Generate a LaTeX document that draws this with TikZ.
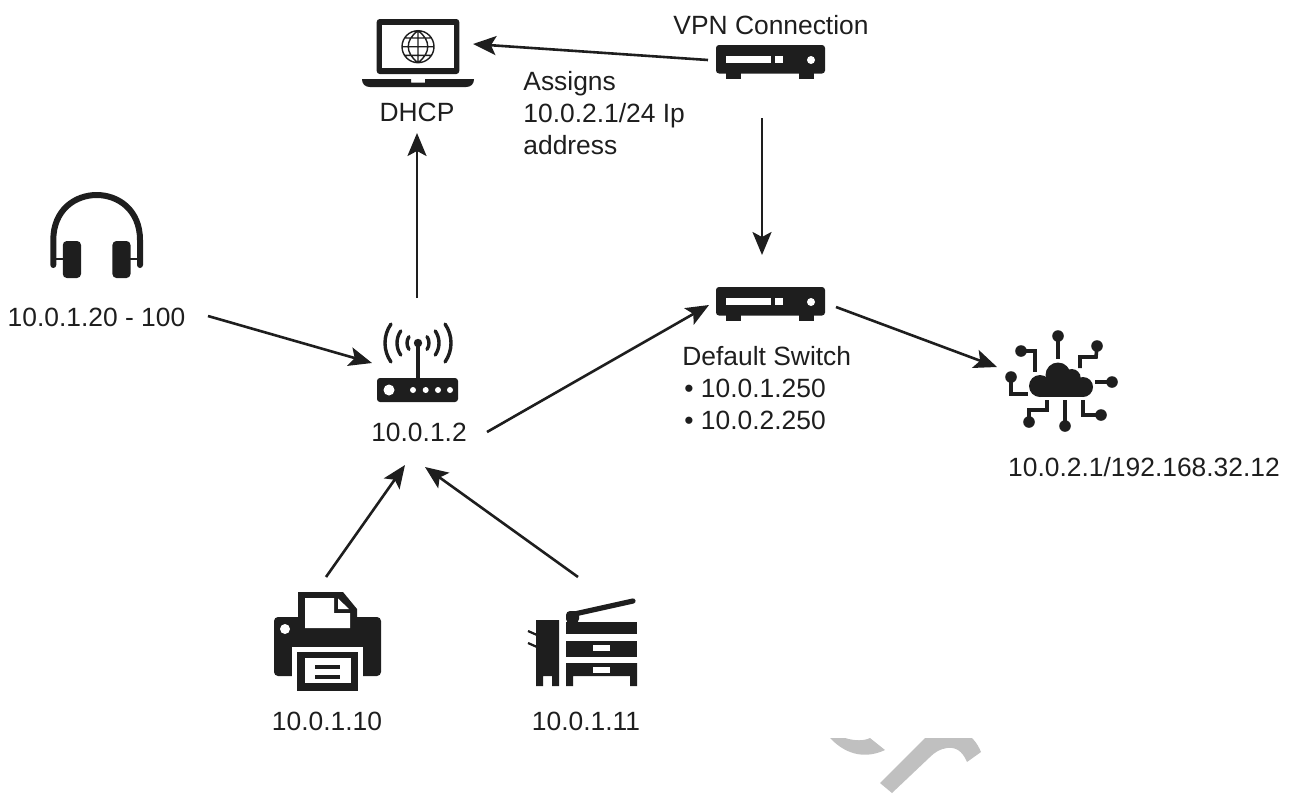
\documentclass[tikz,border=0pt]{standalone}
\usepackage{fontspec}
\setmainfont{Liberation Sans}
\usetikzlibrary{arrows.meta}
\definecolor{ink}{HTML}{1E1E1E}
\definecolor{wmgrey}{HTML}{C0C0C0}
\tikzset{
  linkarrow/.style={draw=ink,line width=1.3pt,-{Stealth[length=11.5pt,width=9.5pt,inset=2.5pt]}},
  lbl/.style={text=ink,font=\fontsize{13.2}{16}\selectfont,inner sep=0pt},
  iconfill/.style={fill=ink,draw=none},
  holefill/.style={fill=white,draw=none},
  wirestroke/.style={draw=ink,line width=1.8pt},
}
\newcommand{\switchicon}{%
  \fill[iconfill,rounded corners=1.5pt] (716,45) rectangle (825,73.5);
  \fill[iconfill] (726,73) rectangle (741,78.7);
  \fill[iconfill] (799,73) rectangle (814,78.7);
  \fill[holefill] (726,56) rectangle (770.7,63.3);
  \fill[holefill] (775,56) rectangle (783,63.3);
  \fill[holefill] (811,60) circle (4);
}
\begin{document}
\begin{tikzpicture}[x=0.5pt,y=-0.5pt]
\useasboundingbox (0,0) rectangle (1294,793);
% watermark
\fill[wmgrey] (830,738) -- (845,738) .. controls (855,741) and (864,741) .. (870,738) -- (885,750) .. controls (868,758) and (848,757) .. (830,738) -- cycle;
\fill[wmgrey] (925,738) -- (972,738) .. controls (976,742) and (979,747) .. (981,752) -- (967,762) .. controls (962,750) and (955,747) .. (947,748) .. controls (940,749) and (935,752) .. (930,757) -- (892,793) -- (880,783) -- cycle;
% laptop
\fill[iconfill,rounded corners=1.5pt] (376.7,19) rectangle (459.3,74);
\fill[holefill] (382,25) rectangle (453.7,68);
\draw[ink,line width=0.7pt] (418,46.7) circle (16) (402,46.7) -- (434,46.7) (418,30.7) -- (418,62.7)
  (418,30.7) .. controls (405,40) and (405,53) .. (418,62.7)
  (418,30.7) .. controls (431,40) and (431,53) .. (418,62.7)
  (405,38) -- (431,38) (405,55.4) -- (431,55.4);
\fill[iconfill] (362,79) -- (411,79) -- (411,82.6) -- (425,82.6) -- (425,79) -- (474,79) .. controls (474,84) and (471,87) .. (466,87) -- (370,87) .. controls (365,87) and (362,84) .. (362,79) -- cycle;
% switches
\begin{scope}\switchicon\end{scope}
\begin{scope}[yshift=-121pt]\switchicon\end{scope}
% headset
\draw[ink,line width=3pt,line cap=round] (53.3,265) -- (53.3,240) .. controls (53.3,180) and (140,180) .. (140,240) -- (140,265);
\draw[ink,line width=1.3pt] (53.3,259) -- (65,259) (128,259) -- (140,259);
\fill[iconfill,rounded corners=2pt] (62.8,241) rectangle (81,278);
\fill[iconfill,rounded corners=2pt] (112.4,241) rectangle (130.5,278);
% router
\fill[iconfill,rounded corners=1.5pt] (377,378) rectangle (458,402);
\fill[holefill] (389,390) circle (5.5);
\foreach \px in {413,425.7,438,450} \fill[holefill] (\px,390) circle (3);
\draw[ink,line width=1.6pt] (418,343) -- (418,380);
\fill[iconfill] (418,343) circle (4.2);
\foreach \r in {11,21,33} {
  \draw[ink,line width=1.7pt,line cap=round] ([shift={(145:\r)}]418,343) arc[start angle=145,end angle=215,radius=\r];
  \draw[ink,line width=1.7pt,line cap=round] ([shift={(35:\r)}]418,343) arc[start angle=35,end angle=-35,radius=\r];
}
% cloud
\fill[iconfill] (1040,386) circle (11);
\fill[iconfill] (1058,375) circle (12.5);
\fill[iconfill] (1071.7,378) circle (9);
\fill[iconfill] (1083,387) circle (10);
\fill[iconfill] (1040,380) rectangle (1083,397);
\draw[wirestroke] (1058,336) -- (1058,359);
\draw[wirestroke] (1021,351) -- (1035,351) -- (1035,372);
\draw[wirestroke] (1097,346) -- (1096,357) -- (1080,357) -- (1080,368);
\draw[wirestroke] (1011,377) -- (1011,394) -- (1028,394);
\draw[wirestroke] (1112,382) -- (1095,382);
\draw[wirestroke] (1029,422) -- (1029,410) -- (1047,410) -- (1047,400);
\draw[wirestroke] (1065,426) -- (1065,400);
\draw[wirestroke] (1101,415) -- (1083,415) -- (1083,400);
\foreach \cx/\cy in {1058/336,1021/351,1097/346,1011/377,1112/382,1029/422,1065/426,1101/415}
  \fill[iconfill] (\cx,\cy) circle (5.8);
% printer
\fill[iconfill,rounded corners=2pt] (274,617) rectangle (381,676);
\fill[iconfill] (298,620) -- (298,592) -- (343,592) -- (357,609) -- (357,620) -- cycle;
\fill[holefill] (305,598) -- (334,598) -- (334,613) -- (350,613) -- (350,628) -- (305,628) -- cycle;
\fill[holefill] (338,598.5) -- (338,609) -- (349,609) -- cycle;
\fill[holefill] (285,629) circle (5);
\fill[holefill] (292,647) rectangle (363,677);
\fill[iconfill] (297,652) rectangle (358,691);
\fill[holefill] (305,658) rectangle (351,683);
\fill[iconfill] (315,665) rectangle (340,669);
\fill[iconfill] (315,675) rectangle (340,679);
% copier
\fill[iconfill] (536,620) -- (559,620) -- (559,686) -- (552,686) -- (552,676) -- (543,676) -- (543,686) -- (536,686) -- cycle;
\draw[ink,line width=1.1pt] (528,631) -- (537,635) (528,643) -- (537,647);
\fill[iconfill] (566,622) rectangle (637,634);
\fill[iconfill,rounded corners=2pt] (566,623) -- (566,611) -- (579,611) -- (579,623) -- cycle;
\draw[ink,line width=2.6pt,line cap=round] (570,615) -- (633,601);
\fill[iconfill] (566,641) rectangle (637,657);
\fill[holefill] (593,644.5) rectangle (610,651);
\fill[iconfill] (566,663) -- (637,663) -- (637,686) -- (630,686) -- (630,676) -- (573,676) -- (573,686) -- (566,686) -- cycle;
\fill[holefill] (593,667) rectangle (610,673);
% labels
\node[lbl] (vpnlabel) at (771,25) {VPN Connection};
\node[lbl] (dhcp) at (417,112) {DHCP};
\node[lbl,align=left,anchor=north west,font=\fontsize{13.2}{16}\selectfont] (assigns) at (523,70.5) {Assigns\\10.0.2.1/24 Ip\\address};
\node[lbl,align=left,anchor=north west,font=\fontsize{13.2}{16}\selectfont] (defsw) at (682,346) {Default Switch\\\hspace{1pt}• 10.0.1.250\\\hspace{1pt}• 10.0.2.250};
\node[lbl] (routerlabel) at (419,432) {10.0.1.2};
\node[lbl] (headlabel) at (96.5,317) {10.0.1.20 - 100};
\node[lbl] (cloudlabel) at (1144,467) {10.0.2.1/192.168.32.12};
\node[lbl] (printlabel) at (327,721) {10.0.1.10};
\node[lbl] (copylabel) at (586,721) {10.0.1.11};
% connector ends
\coordinate (vpnL) at (708,60);
\coordinate (vpnB) at (762,118);
\coordinate (lapR) at (473,44);
\coordinate (lapB) at (417,133);
\coordinate (swT) at (762,255);
\coordinate (swL) at (709,305);
\coordinate (swR) at (836,307);
\coordinate (cloudL) at (997,367);
\coordinate (headR) at (208,316);
\coordinate (routL) at (372,363);
\coordinate (routT) at (417,298);
\coordinate (routR) at (487,432);
\coordinate (routB1) at (405,465);
\coordinate (routB2) at (425,467);
\coordinate (printT) at (326,577);
\coordinate (copyT) at (578,577);
\draw[linkarrow] (vpnL) -- (lapR);
\draw[linkarrow] (vpnB) -- (swT);
\draw[linkarrow] (routT) -- (lapB);
\draw[linkarrow] (headR) -- (routL);
\draw[linkarrow] (routR) -- (swL);
\draw[linkarrow] (swR) -- (cloudL);
\draw[linkarrow] (printT) -- (routB1);
\draw[linkarrow] (copyT) -- (routB2);
\end{tikzpicture}
\end{document}
